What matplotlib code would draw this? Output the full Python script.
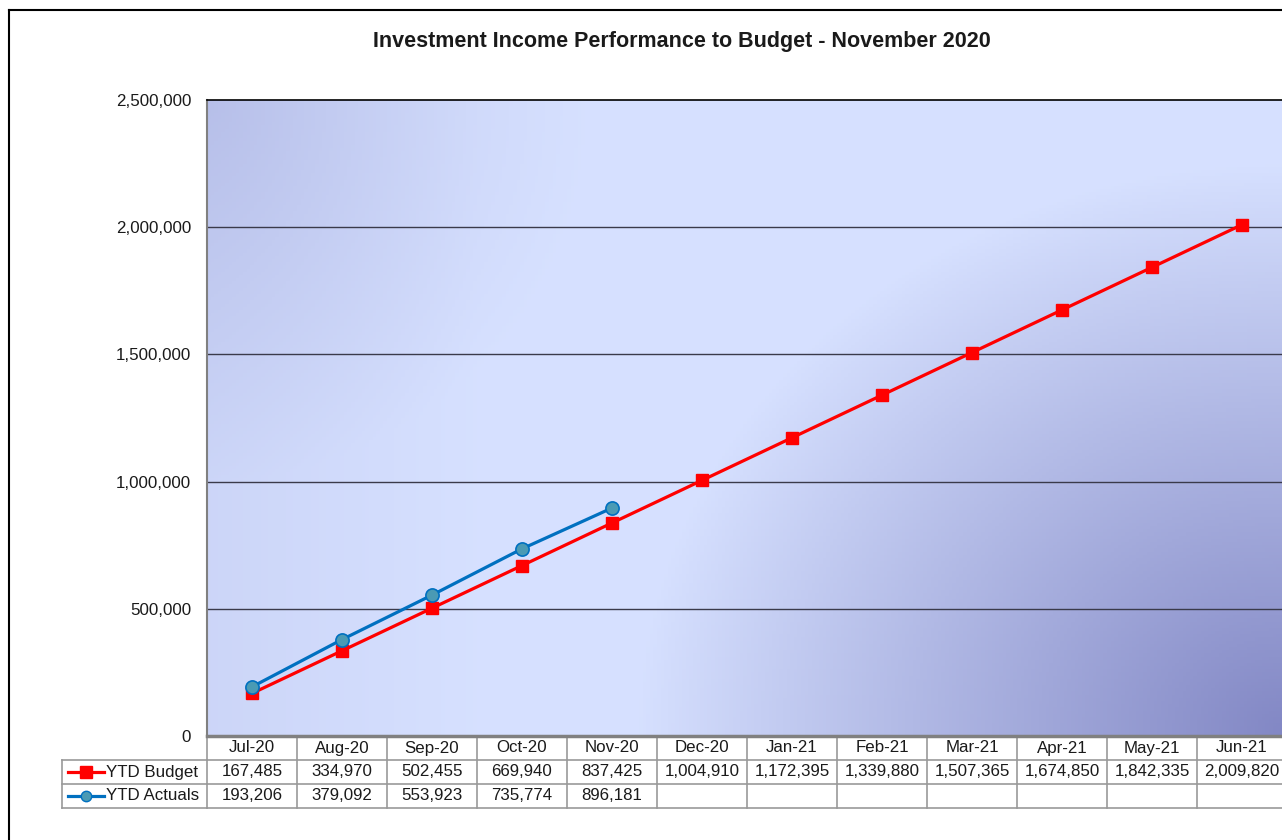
import numpy as np
import matplotlib
matplotlib.use('Agg')
import matplotlib.pyplot as plt
from matplotlib.lines import Line2D
from matplotlib.transforms import blended_transform_factory

plt.rcParams['font.family'] = ['Liberation Sans', 'DejaVu Sans']

months = ['Jul-20', 'Aug-20', 'Sep-20', 'Oct-20', 'Nov-20', 'Dec-20',
          'Jan-21', 'Feb-21', 'Mar-21', 'Apr-21', 'May-21', 'Jun-21']
budget = [167485, 334970, 502455, 669940, 837425, 1004910,
          1172395, 1339880, 1507365, 1674850, 1842335, 2009820]
actuals = [193206, 379092, 553923, 735774, 896181]
series_names = ['YTD Budget', 'YTD Actuals']

W, H = 1282, 840
FS = 12.2
TXT = '#1a1a1a'
fig = plt.figure(figsize=(W / 100, H / 100), dpi=100)
fig.patch.set_facecolor('white')

# outer chart border (only top/left visible in the crop)
fig.add_artist(Line2D([9 / W, 9 / W], [0, 1 - 10 / H], color='black', lw=1.5))
fig.add_artist(Line2D([9 / W, 1], [1 - 10 / H, 1 - 10 / H], color='black', lw=1.5))

left, right, top, bottom = 207 / W, 1287 / W, 1 - 100 / H, 1 - 736 / H
ax = fig.add_axes([left, bottom, right - left, top - bottom])

# gradient plot area
gx, gy = np.meshgrid(np.linspace(0, 1, 300), np.linspace(0, 1, 200))
r = np.sqrt(((1 - gx) / 0.6) ** 2 + (gy / 0.9) ** 2)
t = np.clip(1 - r, 0, None) ** 0.95
r2 = np.sqrt((gx / 0.35) ** 2 + ((1 - gy) / 0.6) ** 2)
t += 0.25 * np.clip(1 - r2, 0, None)
t += 0.12 * np.clip(1 - gx / 0.25, 0, None)
t = np.clip(t, 0, 1)
light = np.array([0.84, 0.88, 1.0])
dark = np.array([0.51, 0.53, 0.77])
img = light[None, None, :] * (1 - t[..., None]) + dark[None, None, :] * t[..., None]
ax.imshow(img, extent=[0, 1, 0, 1], origin='lower', aspect='auto',
          transform=ax.transAxes, zorder=0)

x = np.arange(len(months))
ax.plot(x, budget, color='#ff0000', lw=2.3, marker='s', ms=9,
        mec='#ff0000', mfc='#ff0000', zorder=3)
ax.plot(x[:len(actuals)], actuals, color='#0070c0', lw=2.3, marker='o', ms=9.5,
        mec='#0070c0', mfc='#4a9ab4', mew=1.2, zorder=4)

ax.set_xlim(-0.5, len(months) - 0.5)
ax.set_ylim(0, 2500000)
ax.set_yticks(np.arange(0, 2500001, 500000))
ax.set_yticklabels([f'{v:,.0f}' for v in np.arange(0, 2500001, 500000)])
ax.tick_params(axis='y', length=0, pad=11.5, labelsize=FS, labelcolor=TXT)
ax.set_xticks([])
for v in np.arange(500000, 2000001, 500000):
    ax.axhline(v, color='#3a3a4a', lw=1, zorder=1)

for s in ['right', 'bottom']:
    ax.spines[s].set_visible(False)
ax.spines['top'].set_color('black')
ax.spines['top'].set_linewidth(1.2)
ax.spines['left'].set_color('#808080')
ax.spines['left'].set_linewidth(1.5)
ax.axhline(0, color='#808080', lw=2.5, zorder=5, clip_on=False)

fig.text(682 / W, 1 - 42 / H, 'Investment Income Performance to Budget - November 2020',
         ha='center', va='center', fontsize=15.5, fontweight='bold', color=TXT)

# data table below the axis
tr = blended_transform_factory(ax.transData, ax.transAxes)
row_h = 24 / (736 - 100)
grid_c = '#999999'
n = len(months)
for i in range(n + 1):
    ax.plot([i - 0.5, i - 0.5], [0, -row_h * 3], color=grid_c, lw=1.2,
            transform=tr, clip_on=False)
for k in (1, 2, 3):
    ax.plot([-0.5, n - 0.5], [-row_h * k, -row_h * k], color=grid_c, lw=1.2,
            transform=tr, clip_on=False)
for i, m in enumerate(months):
    ax.text(i, -row_h * 0.5, m, transform=tr, ha='center', va='center',
            fontsize=FS, color=TXT)
    ax.text(i, -row_h * 1.5, f'{budget[i]:,}', transform=tr, ha='center',
            va='center', fontsize=FS, color=TXT)
    if i < len(actuals):
        ax.text(i, -row_h * 2.5, f'{actuals[i]:,}', transform=tr, ha='center',
                va='center', fontsize=FS, color=TXT)

# legend cells at the left of the table
lx0, lx1 = 62 / W, 207 / W
for yy in (760, 784, 808):
    fig.add_artist(Line2D([lx0, lx1], [1 - yy / H, 1 - yy / H], color=grid_c, lw=1.2))
fig.add_artist(Line2D([lx0, lx0], [1 - 760 / H, 1 - 808 / H], color=grid_c, lw=1.2))
keys = [('#ff0000', 's', '#ff0000', '#ff0000'), ('#0070c0', 'o', '#4a9ab4', '#0070c0')]
for k, (name, (c, mk, fc, ec)) in enumerate(zip(series_names, keys)):
    yc = 1 - (772 + 24 * k) / H
    fig.add_artist(Line2D([68 / W, 104 / W], [yc, yc], color=c, lw=2.3))
    fig.add_artist(Line2D([86 / W], [yc], marker=mk, ms=8 if mk == 's' else 7.5,
                          mfc=fc, mec=ec, color=c))
    fig.text(106 / W, yc, name, ha='left', va='center', fontsize=FS, color=TXT)

fig.savefig('out.png', dpi=100)
